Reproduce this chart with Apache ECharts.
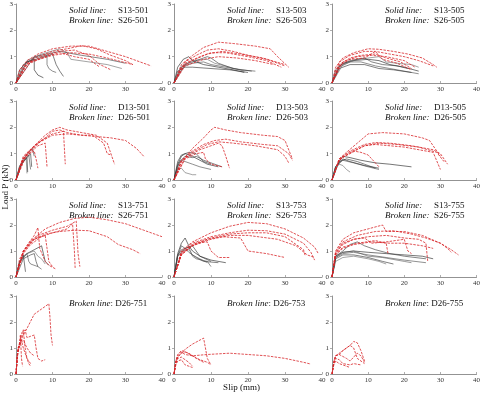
<!DOCTYPE html>
<html><head><meta charset="utf-8">
<script src="https://cdn.jsdelivr.net/npm/echarts@6/dist/echarts.min.js"></script>
<style>html,body{margin:0;padding:0;background:#fff}#c{width:483px;height:395px}</style>
</head><body><div id="c"></div>
<script>
// ---- data (slip mm, load kN) ----
const xTicks = [0, 10, 20, 30, 40];
const yTicks = [0, 1, 2, 3];
const xLabel = 'Slip (mm)';
const yLabel = 'Load P (kN)';

const S13_501 = [
 [[0,0],[1,0.5],[3,0.8],[5,0.9],[5,0.5],[6,0.3],[7.5,0.2]],
 [[0,0],[2,0.7],[5,0.95],[8.5,1.05],[8.5,0.7],[9,0.55],[10,0.45],[11,0.4]],
 [[0,0],[3,0.8],[8,1.0],[10,1.1],[11,0.7],[12,0.45],[13,0.25]],
 [[0,0],[3,0.85],[7,1.1],[12,1.3],[14,1.15],[15,0.9],[20,0.8],[25,0.7],[29,0.55]],
 [[0,0],[5,1.0],[12,1.2],[18,1.05],[25,0.9],[30,0.75]]
];
const S26_501 = [
 [[0,0],[1,0.5],[3,0.85],[6,1.1],[10,1.3],[15,1.4],[20,1.4],[25,1.2],[30,1.0],[35,0.75],[37,0.65]],
 [[0,0],[2,0.6],[5,0.95],[10,1.2],[14,1.3],[18,1.42],[22,1.3],[26,1.05],[30,0.85],[32,0.7]],
 [[0,0],[3,0.75],[8,1.05],[12,1.2],[16,1.25],[20,1.05],[23,0.7],[26,0.5]],
 [[0,0],[4,0.8],[10,1.05],[15,1.15],[20,1.1],[25,0.95],[32,0.7]],
 [[0,0],[3,0.7],[8,1.0],[12,1.15],[16,1.0],[20,0.9],[23,0.6]]
];
const S13_503 = [
 [[0,0],[1,0.6],[2.5,0.9],[4,1.0],[5,0.85],[8,0.7],[12,0.6],[16,0.5],[19,0.4]],
 [[0,0],[2,0.6],[5,0.75],[8,0.8],[10,0.7],[14,0.6],[18,0.5],[22,0.45]],
 [[0,0],[1,0.45],[3,0.6],[5,0.6],[10,0.55],[15,0.5],[20,0.4]],
 [[0,0],[2,0.65],[5,0.85],[9,0.9],[11,0.75],[15,0.6],[19,0.45]],
 [[0,0],[3,0.7],[7,0.9],[9,1.0],[10,0.95],[12,0.75],[16,0.55],[21,0.45]]
];
const S26_503 = [
 [[0,0],[2,0.7],[5,1.05],[8,1.35],[12,1.55],[16,1.5],[22,1.4],[26,1.3],[28,1.0],[31,0.6]],
 [[0,0],[3,0.8],[6,1.05],[9,1.25],[12,1.3],[16,1.2],[20,1.05],[25,0.9],[30,0.65]],
 [[0,0],[3,0.75],[7,1.0],[10,1.15],[14,1.15],[20,1.0],[25,0.85],[29,0.6]],
 [[0,0],[2,0.6],[5,0.85],[9,1.1],[13,1.2],[18,1.1],[24,0.95],[30,0.7]],
 [[0,0],[3,0.65],[8,0.9],[12,1.0],[17,0.95],[22,0.85],[27,0.7]]
];
const S13_505 = [
 [[0,0],[1,0.5],[3,0.75],[6,0.85],[10,0.9],[13,0.85],[16,0.7],[20,0.6],[24,0.45]],
 [[0,0],[2,0.6],[5,0.8],[8,0.8],[12,0.65],[16,0.55],[20,0.45],[24,0.35]],
 [[0,0],[2,0.55],[5,0.7],[9,0.7],[13,0.55],[17,0.5],[22,0.4]],
 [[0,0],[3,0.7],[7,0.9],[10,0.95],[13,1.0],[15,0.8],[18,0.75],[22,0.7],[24,0.6]],
 [[0,0],[2,0.65],[5,0.85],[9,0.95],[11,0.8],[14,0.7],[18,0.65],[21,0.55]]
];
const S26_505 = [
 [[0,0],[1,0.6],[3,0.95],[6,1.15],[10,1.3],[13,1.28],[17,1.2],[21,1.1],[25,0.95],[28,0.7],[29,0.6]],
 [[0,0],[2,0.8],[5,1.05],[9,1.2],[12,1.2],[16,1.1],[20,1.0],[24,0.85],[28,0.65]],
 [[0,0],[2,0.7],[5,0.95],[8,1.05],[12,1.1],[15,0.95],[19,0.8],[22,0.55]],
 [[0,0],[2,0.65],[5,0.9],[9,0.95],[12,1.2],[14,0.9],[18,0.75],[22,0.5]],
 [[0,0],[3,0.8],[7,1.0],[11,1.05],[15,1.0],[20,0.85],[23,0.6]]
];
const D13_501 = [
 [[0,0],[1,0.5],[2,0.7],[3,0.85],[3.2,0.3]],
 [[0,0],[1,0.55],[2.5,0.8],[3.5,0.95],[4,0.4]],
 [[0,0],[1.5,0.6],[3,0.85],[4,1.0],[4.3,0.5]],
 [[0,0],[1,0.5],[2,0.7],[2.8,0.8],[3,0.25]],
 [[0,0],[2,0.8],[3.5,1.05],[4.5,1.2],[5,0.9]]
];
const D26_501 = [
 [[0,0],[2,0.9],[5,1.3],[8,1.6],[10,1.85],[12,1.9],[14,1.8],[18,1.7],[22,1.65],[26,1.6],[30,1.5],[33,1.2],[35,0.9]],
 [[0,0],[2,0.85],[5,1.3],[8,1.7],[10,1.9],[12,2.0],[14,1.9],[18,1.8],[22,1.7],[25,1.4],[27,0.6]],
 [[0,0],[2,0.8],[4,1.1],[7,1.5],[10,1.75],[13,1.85],[13.5,0.6]],
 [[0,0],[2,0.75],[4,1.05],[6,1.3],[8,1.4],[8.5,0.5]],
 [[0,0],[1.5,0.7],[3,0.95],[5,1.1],[5.5,0.8],[6,0.45]],
 [[0,0],[3,1.0],[6,1.4],[10,1.7],[14,1.75],[18,1.7],[21,1.7],[24,1.4],[25,1.0],[26,0.95]]
];
const D13_503 = [
 [[0,0],[1,0.6],[2,0.9],[3,1.0],[5,0.9],[7,0.75],[9,0.6],[12,0.5]],
 [[0,0],[1,0.55],[2,0.75],[3,0.7],[5,0.6],[7,0.5],[10,0.4]],
 [[0,0],[1,0.7],[2,0.95],[4,1.05],[6,1.0],[8,0.7],[10,0.6]],
 [[0,0],[1,0.4],[2,0.45],[3,0.28],[5,0.2],[6,0.2]],
 [[0,0],[1.5,0.7],[3,0.9],[5,0.85],[6,0.9],[8,0.75],[10,0.65],[13,0.5]]
];
const D26_503 = [
 [[0,0],[2,0.7],[5,1.2],[8,1.6],[10,1.9],[11,2.0],[14,1.9],[18,1.8],[24,1.7],[28,1.65],[30,1.5],[32,0.8]],
 [[0,0],[2,0.75],[5,1.1],[8,1.35],[11,1.5],[14,1.55],[18,1.45],[24,1.35],[28,1.3],[31,1.0],[32,0.75]],
 [[0,0],[2,0.7],[5,1.05],[9,1.35],[12,1.45],[16,1.4],[22,1.3],[28,1.15],[30,0.9],[31,0.65]],
 [[0,0],[3,0.85],[7,1.15],[10,1.3],[12,1.4],[13,1.3],[14,0.9],[15,0.45]],
 [[0,0],[3,0.8],[6,1.0],[8,1.05],[8.5,0.8],[10,0.6],[13,0.5]]
];
const D13_505 = [
 [[0,0],[1,0.5],[3,0.9],[5,0.85],[8,0.75],[12,0.65],[16,0.6],[22,0.5]],
 [[0,0],[1,0.5],[3,0.75],[6,0.65],[10,0.5],[13,0.4]],
 [[0,0],[1,0.5],[3,0.8],[5,0.7],[9,0.55],[13,0.45]],
 [[0,0],[1,0.45],[2,0.6],[3,0.55],[4,0.4],[5,0.3]],
 [[0,0],[2,0.7],[4,0.8],[7,0.7],[10,0.55],[12,0.45]]
];
const D26_505 = [
 [[0,0],[2,0.8],[4,1.05],[7,1.4],[10,1.75],[14,1.8],[20,1.75],[25,1.6],[27,1.5],[29,1.1],[30,0.9]],
 [[0,0],[2,0.8],[5,1.1],[9,1.35],[12,1.42],[16,1.4],[22,1.3],[28,1.15],[30,1.0],[32,0.6]],
 [[0,0],[2,0.75],[5,1.05],[9,1.3],[13,1.4],[18,1.35],[24,1.25],[29,1.05],[31,0.7]],
 [[0,0],[2,0.8],[5,1.0],[9,1.3],[12,1.35],[20,1.25],[28,1.05],[30,0.4]],
 [[0,0],[2,0.75],[4,0.95],[6,1.1],[8,1.05],[10,0.95],[11,0.8],[13,0.5]]
];
const S13_751 = [
 [[0,0],[1,0.6],[3,0.9],[5,1.05],[7,1.2],[7.5,0.9],[8,0.6],[9,0.45]],
 [[0,0],[1,0.55],[2,0.8],[3,0.9],[3.5,0.6],[4,0.5],[6,0.4],[7,0.3]],
 [[0,0],[1,0.6],[2,0.85],[2.5,0.9],[2.6,0.2]],
 [[0,0],[1,0.55],[3,0.9],[5,1.0],[6,0.8],[7,0.7],[8,0.5]],
 [[0,0],[2,0.7],[4,0.85],[5,0.9],[5.5,0.6],[6,0.4]]
];
const S26_751 = [
 [[0,0],[2,1.0],[5,1.5],[8,1.85],[12,2.1],[16,2.25],[20,2.3],[25,2.2],[30,2.05],[35,1.8],[38,1.65],[40,1.55]],
 [[0,0],[2,1.0],[5,1.45],[8,1.65],[12,1.75],[16,1.8],[20,1.78],[25,1.55],[28,1.25],[32,1.05],[34,0.9]],
 [[0,0],[2,0.95],[4,1.3],[6,1.6],[10,1.8],[14,1.95],[16.5,2.15],[17,0.9],[17.5,0.4]],
 [[0,0],[2,0.9],[4,1.25],[7,1.55],[10,1.7],[14,1.85],[15.5,2.05],[16,1.0],[16.2,0.35]],
 [[0,0],[1,0.7],[3,1.2],[5,1.6],[6,1.9],[6.5,1.1],[8,0.6],[9,0.45],[11,0.3]],
 [[0,0],[2,1.0],[4,1.4],[6,1.5],[8,1.6],[8.5,1.1],[9,0.6],[10,0.4]]
];
const S13_753 = [
 [[0,0],[1,0.9],[2,1.3],[3,1.5],[4,1.2],[5,1.0],[7,0.8],[10,0.65],[14,0.55]],
 [[0,0],[1,0.85],[2,1.05],[3,1.1],[4,1.15],[5,0.8],[6,0.7],[9,0.6],[10,0.4]],
 [[0,0],[1,0.8],[3,1.1],[5,1.2],[6,1.0],[7,0.8],[10,0.6]],
 [[0,0],[1,0.85],[2,1.0],[4,1.05],[5,0.85],[7,0.7],[9,0.55]],
 [[0,0],[1,0.8],[2,1.2],[3,1.1],[4,0.95],[6,0.75],[8,0.6],[12,0.55]]
];
const S26_753 = [
 [[0,0],[2,1.0],[5,1.35],[10,1.7],[15,1.95],[20,2.1],[25,2.05],[30,1.85],[35,1.5],[38,1.15],[39,0.9]],
 [[0,0],[2,0.95],[5,1.3],[10,1.55],[15,1.7],[20,1.8],[25,1.78],[30,1.65],[35,1.3],[37,0.95],[38,0.65]],
 [[0,0],[2,0.9],[5,1.25],[10,1.5],[15,1.65],[20,1.7],[25,1.7],[30,1.55],[35,1.05],[35.5,0.8]],
 [[0,0],[2,0.85],[5,1.2],[10,1.45],[15,1.6],[20,1.6],[28,1.45],[33,1.2],[36,0.85],[38,0.75]],
 [[0,0],[2,0.9],[5,1.2],[9,1.45],[13,1.55],[18,1.5],[20,1.0],[25,0.9],[30,0.75]],
 [[0,0],[2,0.85],[4,1.1],[6,1.3],[9,1.35],[10,1.0],[12,0.75],[15,0.75]]
];
const S13_755 = [
 [[0,0],[1,0.8],[3,0.95],[6,1.0],[10,0.95],[15,0.9],[20,0.85],[25,0.8],[28,0.7]],
 [[0,0],[1,0.75],[3,0.9],[6,0.95],[10,0.85],[15,0.75],[20,0.65],[26,0.55]],
 [[0,0],[1,0.7],[3,0.85],[6,0.85],[10,0.75],[14,0.6],[17,0.5]],
 [[0,0],[1,0.6],[3,0.75],[6,0.8],[10,0.7],[13,0.6],[15,0.5]],
 [[0,0],[1,0.8],[3,1.0],[5,1.25],[7,1.35],[9,1.2],[12,1.05],[16,0.9],[20,0.8],[26,0.7]],
 [[0,0],[1,0.75],[3,0.95],[6,1.0],[10,0.8],[14,0.75],[20,0.6],[22,0.55]]
];
const S26_755 = [
 [[0,0],[1,1.0],[3,1.45],[6,1.7],[10,1.85],[14,2.0],[15,1.75],[20,1.75],[25,1.6],[30,1.3],[33,1.05],[35,0.85]],
 [[0,0],[1,0.95],[3,1.35],[7,1.6],[12,1.75],[17,1.78],[22,1.65],[26,1.5],[30,1.3],[32,1.1],[33,0.95]],
 [[0,0],[1,0.9],[3,1.3],[6,1.45],[10,1.55],[15,1.6],[20,1.5],[24,1.45],[26,1.3],[26.5,0.6]],
 [[0,0],[1,0.9],[3,1.25],[6,1.45],[9,1.5],[11,1.3],[15,1.35],[20,1.45],[21,1.0],[22,0.9]],
 [[0,0],[1,0.85],[3,1.15],[7,1.3],[12,1.4],[15,1.3],[15.5,0.9]],
 [[0,0],[1,0.85],[3,1.1],[6,1.25],[11,1.35],[16,1.3],[20,1.3],[25,1.2],[28,1.1]]
];
const D26_751 = [
 [[0,0],[0.5,0.8],[1,1.1],[2,1.5],[3,1.75],[5,2.3],[7,2.5],[9,2.7],[9.3,2.2],[9.6,1.5],[10,1.1]],
 [[0,0],[0.5,0.9],[1,1.2],[2,1.6],[2.5,1.7],[3,1.4],[4,1.45],[5,1.5],[5.5,1.0],[6,0.6],[7,0.5],[8,0.55]],
 [[0,0],[0.5,0.8],[1,1.2],[1.5,1.55],[2,1.7],[2.5,1.0],[3,0.6],[4,0.4]],
 [[0,0],[0.5,1.0],[1,1.1],[1.5,1.3],[2,1.0],[2.5,0.8],[3,0.6],[3.5,0.4],[4,0.3]],
 [[0,0],[0.3,0.7],[0.8,1.0],[1.2,1.5],[1.5,0.6],[1.8,0.3]],
 [[0,0],[0.5,0.9],[1,1.15],[2,1.3],[3,1.0],[4,0.8],[5,0.7]]
];
const D26_753 = [
 [[0,0],[0.5,0.45],[1,0.65],[3,0.95],[5,1.15],[8,1.38],[8.5,1.0],[9,0.6],[10,0.35]],
 [[0,0],[0.5,0.5],[1,0.7],[2,0.85],[3,0.75],[5,0.7],[9,0.75],[15,0.8],[20,0.75],[25,0.7],[30,0.6],[35,0.45],[37,0.38]],
 [[0,0],[0.5,0.45],[1,0.65],[2,0.8],[3,0.85],[5,0.7],[7,0.55],[9,0.45],[10,0.35]],
 [[0,0],[0.5,0.4],[1,0.6],[2,0.65],[3,0.55],[4,0.45],[5,0.3]],
 [[0,0],[0.5,0.35],[1,0.5],[2,0.55],[3,0.35],[4,0.3],[5,0.25]],
 [[0,0],[0.5,0.5],[1,0.75],[2,0.9],[4,0.8],[6,0.6],[8,0.45]]
];
const D26_755 = [
 [[0,0],[0.5,0.4],[1,0.7],[3,0.9],[5,1.1],[6,1.25],[7,1.2],[8,0.9],[9,0.5]],
 [[0,0],[0.5,0.45],[1,0.7],[2,0.75],[4,0.6],[5,0.5],[7,0.8],[8,0.7],[9,0.45]],
 [[0,0],[0.5,0.4],[1,0.6],[2,0.55],[3,0.4],[5,0.35],[6,0.4],[8,0.35]],
 [[0,0],[0.5,0.35],[1,0.5],[2,0.4],[4,0.3],[5,0.25]],
 [[0,0],[0.5,0.5],[1,0.7],[2,0.75],[3,0.9],[5,1.1],[6,1.0],[7,0.6],[9,0.4]]
];

const panels = [
 {solidName:'S13-501', brokenName:'S26-501', solid:S13_501, broken:S26_501},
 {solidName:'S13-503', brokenName:'S26-503', solid:S13_503, broken:S26_503},
 {solidName:'S13-505', brokenName:'S26-505', solid:S13_505, broken:S26_505},
 {solidName:'D13-501', brokenName:'D26-501', solid:D13_501, broken:D26_501},
 {solidName:'D13-503', brokenName:'D26-503', solid:D13_503, broken:D26_503},
 {solidName:'D13-505', brokenName:'D26-505', solid:D13_505, broken:D26_505},
 {solidName:'S13-751', brokenName:'S26-751', solid:S13_751, broken:S26_751},
 {solidName:'S13-753', brokenName:'S26-753', solid:S13_753, broken:S26_753},
 {solidName:'S13-755', brokenName:'S26-755', solid:S13_755, broken:S26_755},
 {solidName:null, brokenName:'D26-751', solid:[], broken:D26_751},
 {solidName:null, brokenName:'D26-753', solid:[], broken:D26_753},
 {solidName:null, brokenName:'D26-755', solid:[], broken:D26_755}
];

// ---- layout ----
const colLeft = [16, 174, 332];
const colWidth = [146, 148, 146];
const rowTop = [4, 101, 199, 296];
const rowHeight = [79, 79, 78, 78];
const FONT = '"Liberation Serif","Times New Roman",serif';
const greys = ['#1a1a1a', '#444', '#2a2a2a', '#666', '#333', '#555'];

const grids = [], xAxes = [], yAxes = [], series = [], graphics = [];
panels.forEach((p, i) => {
  const r = Math.floor(i / 3), c = i % 3;
  const left = colLeft[c], top = rowTop[r];
  grids.push({left: left, top: top, width: colWidth[c], height: rowHeight[r]});
  xAxes.push({
    gridIndex: i, type: 'value', min: xTicks[0], max: xTicks[xTicks.length-1], interval: 10,
    axisLine: {lineStyle: {color: '#777', width: 0.8}},
    axisTick: {show: true, inside: true, length: 2, lineStyle: {color: '#777', width: 0.6}},
    axisLabel: {fontFamily: FONT, fontSize: 7, color: '#333', margin: 3},
    splitLine: {show: false}
  });
  yAxes.push({
    gridIndex: i, type: 'value', min: yTicks[0], max: yTicks[yTicks.length-1], interval: 1,
    axisLine: {show: true, lineStyle: {color: '#777', width: 0.8}},
    axisTick: {show: true, length: 2, lineStyle: {color: '#777', width: 0.6}},
    axisLabel: {fontFamily: FONT, fontSize: 7, color: '#333', margin: 3},
    splitLine: {show: false}
  });
  p.solid.forEach((d, k) => series.push({
    type: 'line', xAxisIndex: i, yAxisIndex: i, data: d, showSymbol: false, silent: true,
    lineStyle: {color: greys[k % greys.length], width: 0.6}, z: 2, animation: false
  }));
  p.broken.forEach((d) => series.push({
    type: 'line', xAxisIndex: i, yAxisIndex: i, data: d, showSymbol: false, silent: true,
    lineStyle: {color: '#d8262a', width: 0.8, type: [2.5, 1.2]}, z: 3, animation: false
  }));
  if (p.solidName) {
    graphics.push({type:'text', left: left + 53, top: top + 2, style:{text:'Solid line:', font:'italic 9px ' + FONT, fill:'#111'}});
    graphics.push({type:'text', left: left + 102, top: top + 2, style:{text:p.solidName, font:'9px ' + FONT, fill:'#111'}});
    graphics.push({type:'text', left: left + 53, top: top + 12, style:{text:'Broken line:', font:'italic 9px ' + FONT, fill:'#111'}});
    graphics.push({type:'text', left: left + 102, top: top + 12, style:{text:p.brokenName, font:'9px ' + FONT, fill:'#111'}});
  } else {
    graphics.push({type:'text', left: left + 53, top: top + 3, style:{
      text:'{i|Broken line}: ' + p.brokenName, font:'9px ' + FONT, fill:'#111',
      rich:{i:{fontStyle:'italic', fontFamily: FONT, fontSize: 9, fill:'#111'}}}});
  }
});
graphics.push({type:'text', left: 'center', top: 383, style:{text:xLabel, font:'9px ' + FONT, fill:'#111'}});
graphics.push({type:'text', x: 1, y: 187, rotation: Math.PI/2, style:{text:yLabel, font:'9px ' + FONT, fill:'#111', align:'center', verticalAlign:'top'}});

const chart = echarts.init(document.getElementById('c'), null, {renderer: 'canvas'});
chart.setOption({
  animation: false, backgroundColor: '#fff',
  grid: grids, xAxis: xAxes, yAxis: yAxes, series: series, graphic: graphics
});
</script></body></html>
